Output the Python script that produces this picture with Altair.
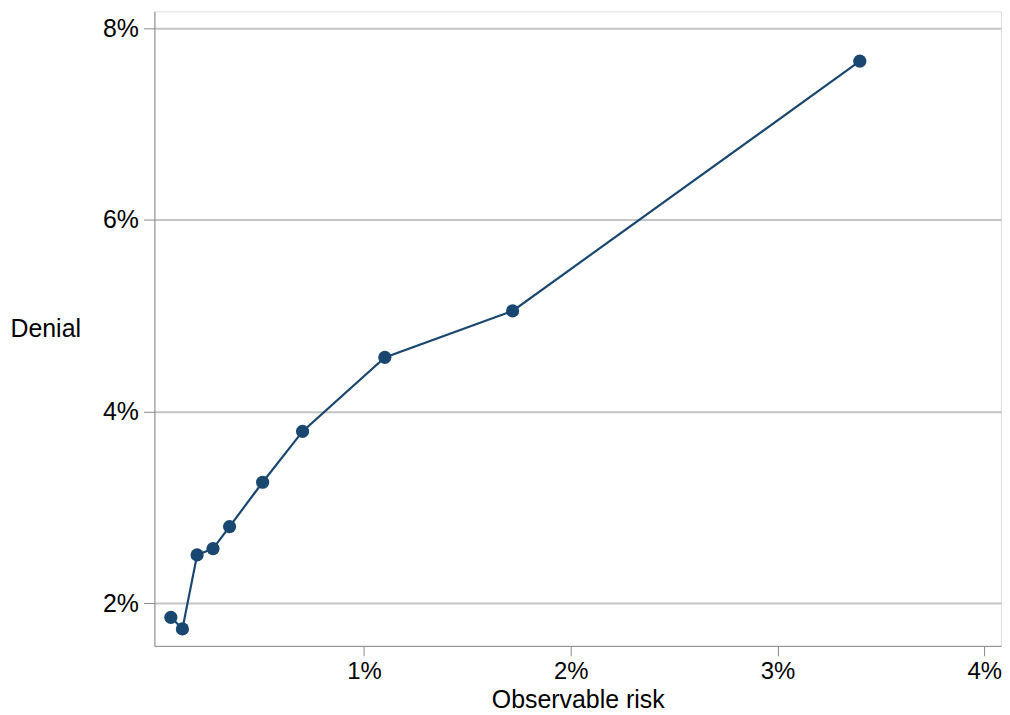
import altair as alt
import pandas as pd

# Data (fractions)
observable_risk = [0.00066, 0.00122, 0.00193, 0.00270, 0.00350, 0.00510, 0.00703, 0.01101, 0.01719, 0.03398]
denial = [0.01851, 0.01730, 0.02502, 0.02569, 0.02798, 0.03261, 0.03792, 0.04565, 0.05050, 0.07657]
x_ticks = [0.01, 0.02, 0.03, 0.04]
y_ticks = [0.02, 0.04, 0.06, 0.08]

df = pd.DataFrame({"risk": observable_risk, "denial": denial, "order": list(range(len(denial)))})

FONT = "Liberation Sans"
COLOR = "#1a476f"

x = alt.X(
    "risk:Q",
    scale=alt.Scale(domain=[-0.000135, 0.04081], nice=False, zero=False),
    axis=alt.Axis(
        values=x_ticks, format=".0%", title="Observable risk", grid=False,
        tickSize=10, labelPadding=4, labelFontSize=24, titleFontSize=25,
        titleFontWeight="normal", titleY=62, titleBaseline="alphabetic",
        labelFlush=False,
    ),
)
y = alt.Y(
    "denial:Q",
    scale=alt.Scale(domain=[0.01553, 0.08177], nice=False, zero=False),
    axis=alt.Axis(
        values=y_ticks, format=".0%", title="Denial", grid=True,
        gridColor="#c4c4c4", gridWidth=2,
        tickSize=11, labelPadding=5, labelFontSize=25, titleFontSize=25,
        titleFontWeight="normal", titleAngle=0, titleAlign="left",
        titleBaseline="middle", titleX=-145, titleY=318,
        labelFlush=False,
    ),
)

base = alt.Chart(df)
line = base.mark_line(color=COLOR, strokeWidth=2.2).encode(x=x, y=y, order="order:Q")
pts = base.mark_circle(color=COLOR, size=175, opacity=1).encode(x=x, y=y)

chart = (
    (line + pts)
    .properties(
        width=850, height=637,
        autosize=alt.AutoSizeParams(type="none"),
        padding={"left": 147, "top": 2, "right": 1, "bottom": 66},
    )
    .configure_view(stroke=None)
    .configure_axis(
        labelFont=FONT, titleFont=FONT, labelColor="#000000", titleColor="#000000",
        domainColor="#000000", domainWidth=2, tickColor="#000000", tickWidth=1.5,
    )
    .configure(background="white")
)

chart.save("out.html", embed_options={"renderer": "svg", "actions": False})
